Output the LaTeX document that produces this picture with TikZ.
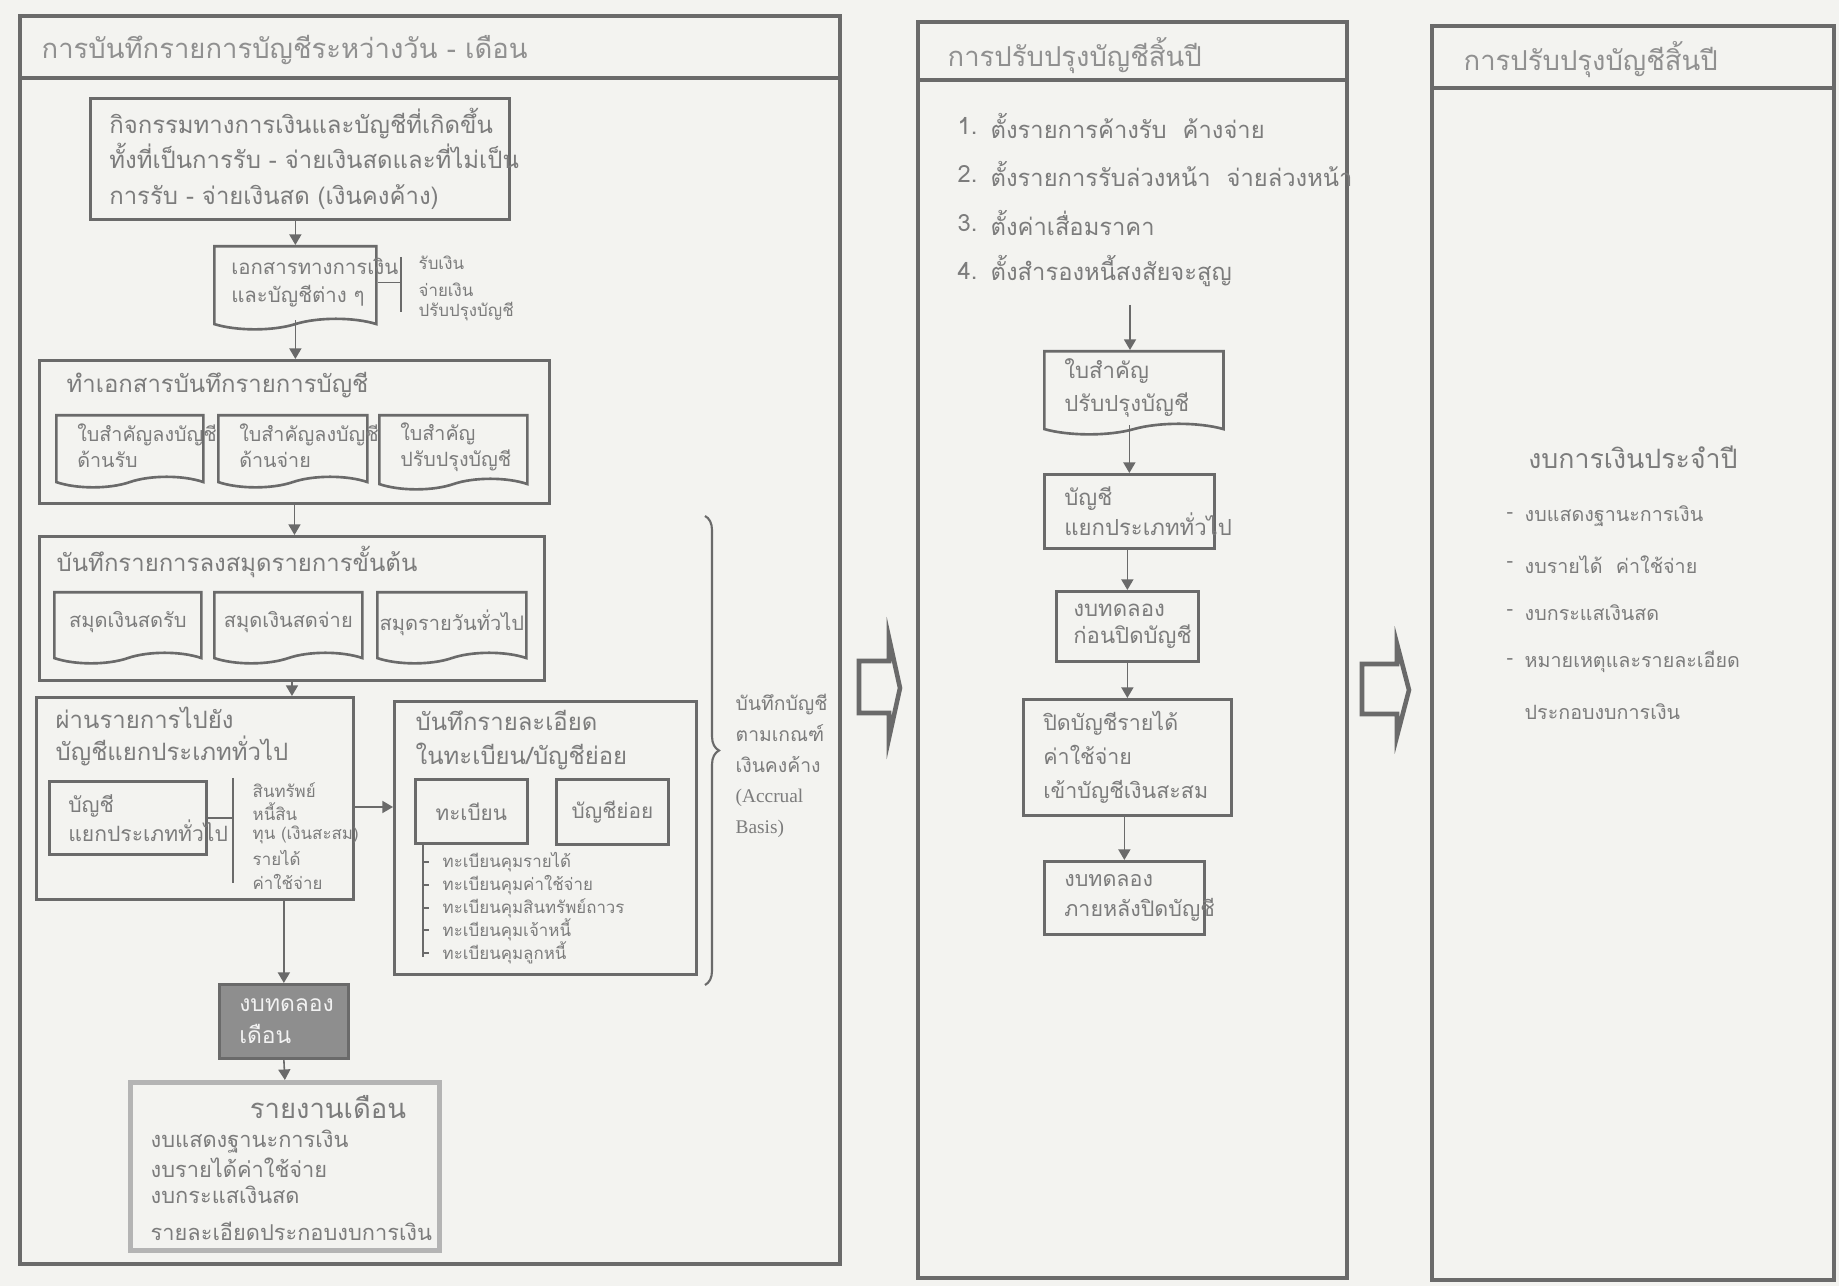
\documentclass[tikz,border=0pt]{standalone}
\usepackage{fontspec}
\setmainfont{Loma}[Script=Thai]
\newfontfamily\latinfont{Liberation Serif}
\usetikzlibrary{positioning}
\usetikzlibrary{arrows.meta}
\usetikzlibrary{shapes.symbols}
\usetikzlibrary{decorations.pathreplacing}
\definecolor{paper}{HTML}{F3F3F0}
\definecolor{ink}{HTML}{6A6A6A}
\definecolor{txt}{HTML}{7C7C7C}
\definecolor{shade}{HTML}{8E8E8E}
\definecolor{rim}{HTML}{B4B4B4}
\newcommand{\fs}[2]{\fontsize{#1}{#2}\selectfont}
\exhyphenpenalty=10000

\begin{document}
\begin{tikzpicture}[x=0.01cm, y=-0.01cm,
    panel/.style = {draw=ink, line width=1pt},
    stepbox/.style = {draw=ink, line width=0.75pt, anchor=north west, inner sep=0pt, text=txt},
    paperdoc/.style = {stepbox, tape, tape bend top=none, tape bend height=3pt},
    flow/.style = {draw=ink, line width=0.45pt, -{Triangle[width=3.4pt,length=3pt]}},
    link/.style = {draw=ink, line width=0.45pt},
    bigarrow/.style = {draw=ink, line width=1.3pt},
    title/.style = {anchor=west, inner sep=0pt, text=txt!85, font=\fs{7.8}{10}},
    head/.style = {anchor=west, inner sep=0pt, text=txt, align=left},
    note/.style = {anchor=west, inner sep=0pt, text=txt, font=\fs{4.8}{6}},
  ]
  \fill[paper] (0,0) rectangle (1839,1286);
  \useasboundingbox (0,0) rectangle (1839,1286);

  % daily - monthly recording
  \draw[panel] (20,16) rectangle (840,1264);
  \draw[panel] (20,78) -- (840,78);
  \node[title] (t1) at (41,50) {การบันทึกรายการบัญชีระหว่างวัน - เดือน};

  \node[stepbox, minimum width=4.19cm, minimum height=1.21cm, inner xsep=0.19cm,
        text width=3.81cm, align=left, font=\fs{6.8}{10.2}] (act) at (89,97)
       {กิจกรรมทางการเงินและบัญชีที่เกิดขึ้น\\ทั้งที่เป็นการรับ~-~จ่ายเงินสดและที่ไม่เป็น\\การรับ~-~จ่ายเงินสด~(เงินคงค้าง)};
  \node[paperdoc, minimum width=1.62cm, minimum height=0.83cm, inner xsep=0.17cm,
        text width=1.28cm, align=left, font=\fs{5.8}{8}] (doc) at (213,245)
       {เอกสารทางการเงิน\\และบัญชีต่าง~ๆ};
  \draw[flow] (doc.north |- act.south) -- (doc.north);
  \coordinate (dbt) at (401,257);
  \coordinate (dbb) at (401,312);
  \draw[link] (dbt) -- (dbb);
  \draw[link] (doc.east) -- (doc.east -| dbt);
  \foreach \yy/\txt [count=\k] in {263/รับเงิน, 290/จ่ายเงิน, 312/ปรับปรุงบัญชี}
    \node[note] (dl\k) at (418,\yy) {\txt};

  \node[stepbox, minimum width=5.10cm, minimum height=1.43cm] (vch) at (38,359) {};
  \node[head, font=\fs{6.8}{9}] (vchT) at (66,385) {ทำเอกสารบันทึกรายการบัญชี};
  \draw[flow] (doc.south) -- (doc.south |- vch.north);
  \node[paperdoc, minimum width=1.47cm, minimum height=0.72cm, inner xsep=0.21cm,
        text width=1.05cm, align=left, font=\fs{5.6}{7.4}] (vrc) at (55,414)
       {ใบสำคัญลงบัญชี\\ด้านรับ};
  \node[paperdoc, minimum width=1.49cm, minimum height=0.72cm, inner xsep=0.21cm,
        text width=1.07cm, align=left, font=\fs{5.6}{7.4}] (vpy) at (217,414)
       {ใบสำคัญลงบัญชี\\ด้านจ่าย};
  \node[paperdoc, minimum width=1.48cm, minimum height=0.74cm, inner xsep=0.21cm,
        text width=1.06cm, align=left, font=\fs{5.6}{7.4}] (vaj) at (378,414)
       {ใบสำคัญ\\ปรับปรุงบัญชี};

  \node[stepbox, minimum width=5.05cm, minimum height=1.44cm] (jnl) at (38,535) {};
  \node[head, font=\fs{6.8}{9}] (jnlT) at (56,562) {บันทึกรายการลงสมุดรายการขั้นต้น};
  \draw[flow] (vch.south) -- (vch.south |- jnl.north);
  \node[paperdoc, minimum width=1.47cm, minimum height=0.71cm, font=\fs{5.7}{7.6}] (cbr) at (53,591) {สมุดเงินสดรับ};
  \node[paperdoc, minimum width=1.48cm, minimum height=0.71cm, font=\fs{5.7}{7.6}] (cbp) at (213,591) {สมุดเงินสดจ่าย};
  \node[paperdoc, minimum width=1.49cm, minimum height=0.71cm, font=\fs{5.7}{7.6}] (gjn) at (376,591) {สมุดรายวันทั่วไป};

  \node[stepbox, minimum width=3.17cm, minimum height=2.02cm] (gl) at (35,696) {};
  \node[head, font=\fs{6.8}{9.1}] (glT) at (55,736) {ผ่านรายการไปยัง\\บัญชีแยกประเภททั่วไป};
  \draw[flow] (jnl.south) -- (jnl.south |- gl.north);
  \node[stepbox, minimum width=1.57cm, minimum height=0.73cm, inner xsep=0.19cm,
        text width=1.19cm, align=left, font=\fs{6}{8.2}] (led) at (48,780)
       {บัญชี\\แยกประเภททั่วไป};
  \coordinate (lbt) at (233,778);
  \coordinate (lbb) at (233,883);
  \draw[link] (lbt) -- (lbb);
  \draw[link] (led.east) -- (led.east -| lbt);
  \foreach \yy/\txt [count=\k] in {790/สินทรัพย์, 812/หนี้สิน, 835/ทุน~(เงินสะสม), 858/รายได้, 882/ค่าใช้จ่าย}
    \node[note] (ac\k) at (252,\yy) {\txt};

  \node[stepbox, minimum width=3.02cm, minimum height=2.73cm] (sub) at (393,700) {};
  \node[head, font=\fs{6.8}{9.7}] (subT) at (415,740) {บันทึกรายละเอียด\\ในทะเบียน/บัญชีย่อย};
  \coordinate (gx) at (352,807);
  \draw[flow] (gx) -- (gx -| sub.west);
  \node[stepbox, minimum width=1.12cm, minimum height=0.64cm, font=\fs{5.9}{8}] (reg) at (414,778) {ทะเบียน};
  \node[stepbox, minimum width=1.12cm, minimum height=0.65cm, font=\fs{5.9}{8}] (sld) at (555,778) {บัญชีย่อย};
  \coordinate (rgb) at (423,957);
  \draw[link] (reg.south -| rgb) -- (rgb);
  \foreach \yy/\txt [count=\k] in {862/ทะเบียนคุมรายได้, 885/ทะเบียนคุมค่าใช้จ่าย, 908/ทะเบียนคุมสินทรัพย์ถาวร, 930/ทะเบียนคุมเจ้าหนี้, 953/ทะเบียนคุมลูกหนี้}{
    \draw[link] (423,\yy) -- (429,\yy);
    \node[note] (rg\k) at (442,\yy) {\txt};
  }

  \coordinate (bra) at (705,516);
  \coordinate (brb) at (705,985);
  \draw[link, line width=0.6pt, decorate, decoration={brace, amplitude=0.14cm}] (bra) -- (brb);
  \node[head, font=\fs{5.5}{8.7}] (basis) at (735,766)
       {บันทึกบัญชี\\ตามเกณฑ์\\เงินคงค้าง\\{\latinfont(Accrual}\\{\latinfont Basis)}};

  \node[stepbox, fill=shade, minimum width=1.29cm, minimum height=0.74cm, inner xsep=0.2cm,
        text width=0.89cm, align=left, text=white!90!gray, font=\fs{6.5}{9}] (tbm) at (218,983)
       {งบทดลอง\\เดือน};
  \draw[flow] (tbm.north |- gl.south) -- (tbm.north);
  \node[stepbox, draw=rim, line width=1.3pt, minimum width=3.09cm, minimum height=1.68cm] (rep) at (128,1080) {};
  \draw[flow] (tbm.south) -- (rep.north);
  \node[head, anchor=center, font=\fs{7.8}{10}] (repT) at (328,1107) {รายงานเดือน};
  \foreach \yy/\txt [count=\k] in {1142/งบแสดงฐานะการเงิน, 1168/งบรายได้ค่าใช้จ่าย, 1195/งบกระแสเงินสด, 1231/รายละเอียดประกอบงบการเงิน}
    \node[head, font=\fs{6.2}{8}] (rp\k) at (150,\yy) {\txt};

  \draw[bigarrow] (859,661) -- (889,661) -- (889,638) -- (900,688) -- (889,738) -- (889,713) -- (859,713) -- cycle;

  % year-end adjustment
  \draw[panel] (918,22) rectangle (1347,1278);
  \draw[panel] (918,80) -- (1347,80);
  \node[title] (t2) at (947,56) {การปรับปรุงบัญชีสิ้นปี};
  \foreach \yy/\txt [count=\k] in {126/ตั้งรายการค้างรับ~~ค้างจ่าย, 174/ตั้งรายการรับล่วงหน้า~~จ่ายล่วงหน้า, 223/ตั้งค่าเสื่อมราคา, 271/ตั้งสำรองหนี้สงสัยจะสูญ}{
    \node[head, font=\fs{6.75}{9}] (no\k) at (957,\yy) {\k.};
    \node[head, font=\fs{6.75}{9}] (aj\k) at (990,\yy) {\txt};
  }
  \coordinate (ad0) at (1130,305);
  \node[paperdoc, minimum width=1.79cm, minimum height=0.83cm, inner xsep=0.2cm,
        text width=1.39cm, align=left, font=\fs{6.3}{9.4}] (avc) at (1043,350)
       {ใบสำคัญ\\ปรับปรุงบัญชี};
  \draw[flow] (ad0) -- (ad0 |- avc.north);
  \node[stepbox, minimum width=1.70cm, minimum height=0.74cm, inner xsep=0.2cm,
        text width=1.30cm, align=left, font=\fs{6.3}{8.5}] (bal) at (1043,473)
       {บัญชี\\แยกประเภททั่วไป};
  \draw[flow] (bal.north |- avc.south) -- (bal.north);
  \node[stepbox, minimum width=1.42cm, minimum height=0.70cm, inner xsep=0.17cm,
        text width=1.08cm, align=left, font=\fs{6.3}{7.7}] (tbb) at (1055,590)
       {งบทดลอง\\ก่อนปิดบัญชี};
  \draw[flow] (tbb.north |- bal.south) -- (tbb.north);
  \node[stepbox, minimum width=2.08cm, minimum height=1.16cm, inner xsep=0.2cm,
        text width=1.68cm, align=left, font=\fs{6.1}{9.7}] (cls) at (1022,698)
       {ปิดบัญชีรายได้\\ค่าใช้จ่าย\\เข้าบัญชีเงินสะสม};
  \draw[flow] (cls.north |- tbb.south) -- (cls.north);
  \node[stepbox, minimum width=1.60cm, minimum height=0.73cm, inner xsep=0.2cm,
        text width=1.20cm, align=left, font=\fs{6.1}{8.5}] (tba) at (1043,860)
       {งบทดลอง\\ภายหลังปิดบัญชี};
  \draw[flow] (tba.north |- cls.south) -- (tba.north);

  \draw[bigarrow] (1362,664) -- (1397,664) -- (1397,644) -- (1409,690) -- (1397,736) -- (1397,714) -- (1362,714) -- cycle;

  % annual statements
  \draw[panel] (1432,26) rectangle (1834,1280);
  \draw[panel] (1432,88) -- (1834,88);
  \node[title] (t3) at (1463,60) {การปรับปรุงบัญชีสิ้นปี};
  \node[head, anchor=center, font=\fs{7.6}{10}] (fsT) at (1633,457) {งบการเงินประจำปี};
  \foreach \yy/\txt [count=\k] in {516/งบแสดงฐานะการเงิน, 565/งบรายได้~~ค่าใช้จ่าย, 613/งบกระแสเงินสด, 662/หมายเหตุและรายละเอียด}{
    \node[head, font=\fs{5.6}{8}] (fd\k) at (1506,\yy) {-};
    \node[head, font=\fs{5.6}{8}] (fs\k) at (1524,\yy) {\txt};
  }
  \node[head, font=\fs{5.6}{8}] (fs5) at (1524,712) {ประกอบงบการเงิน};
\end{tikzpicture}
\end{document}
